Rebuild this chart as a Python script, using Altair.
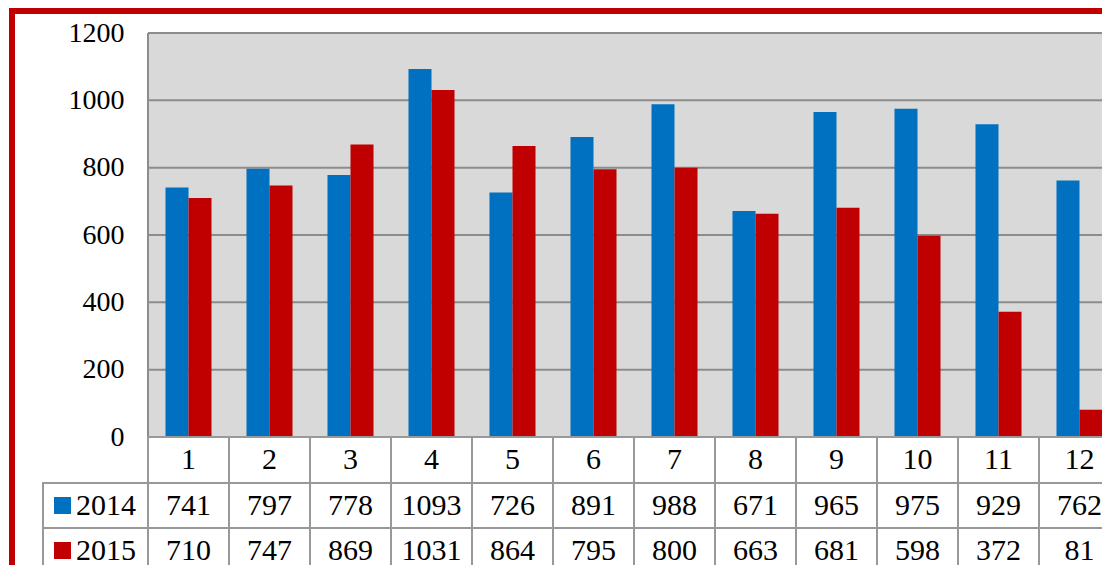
import altair as alt
import pandas as pd

months = [str(i) for i in range(1, 13)]
years = ["2014", "2015"]
v2014 = [741, 797, 778, 1093, 726, 891, 988, 671, 965, 975, 929, 762]
v2015 = [710, 747, 869, 1031, 864, 795, 800, 663, 681, 598, 372, 81]
colors = ["#0070C0", "#C00000"]
y_ticks = [0, 200, 400, 600, 800, 1000, 1200]

FONT = "'Liberation Serif', 'Times New Roman', 'DejaVu Serif', serif"
GRID = "#8c8c8c"
TABLE = "#999999"
FS_AXIS = 28
FS_TABLE = 30

PW, PH = 972, 404
VIEW_W = 946
ROW_TOP = [PH, PH + 46, PH + 91]
ROW_BOT = [PH + 46, PH + 91, PH + 136]

bars_df = pd.DataFrame({
    "month": months * 2,
    "year": [years[0]] * 12 + [years[1]] * 12,
    "value": v2014 + v2015,
})
month_df = pd.DataFrame({"month": months})
tick_df = pd.DataFrame({"tick": y_ticks})
one_df = pd.DataFrame({"k": [0]})

x_enc = alt.X("month:N", sort=months,
              scale=alt.Scale(paddingInner=0, paddingOuter=0, range=[0, PW]),
              axis=None)
y_scale = alt.Scale(domain=[0, 1200], nice=False)
color_scale = alt.Scale(domain=years, range=colors)

# plot background
bg = alt.Chart(one_df).mark_rect(fill="#D9D9D9").encode(
    x=alt.value(0), x2=alt.value(PW), y=alt.value(0), y2=alt.value(PH))

grid = alt.Chart(tick_df).mark_rule(color=GRID, strokeWidth=2).encode(
    y=alt.Y("tick:Q", scale=y_scale,
            axis=alt.Axis(values=y_ticks, title=None, ticks=False,
                          labelFont=FONT, labelFontSize=FS_AXIS, format="d",
                          labelColor="black", labelPadding=24,
                          domain=False, grid=False)),
    x=alt.value(0), x2=alt.value(PW))

left_line = alt.Chart(one_df).mark_rule(color=GRID, strokeWidth=2).encode(
    x=alt.value(0), y=alt.value(0), y2=alt.value(PH))

bars = alt.Chart(bars_df).mark_bar().encode(
    x=x_enc,
    xOffset=alt.XOffset("year:N", sort=years,
                        scale=alt.Scale(paddingInner=0, paddingOuter=0.76)),
    y=alt.Y("value:Q", scale=y_scale),
    color=alt.Color("year:N", scale=color_scale, legend=None),
)

layers = [bg, grid, left_line, bars]

# header row: month numbers
layers.append(alt.Chart(month_df).mark_rect(
    fill="white", stroke=TABLE, strokeWidth=2).encode(
    x=x_enc, y=alt.value(ROW_TOP[0]), y2=alt.value(ROW_BOT[0])))
layers.append(alt.Chart(month_df).mark_text(
    font=FONT, fontSize=FS_TABLE, color="black", baseline="middle").encode(
    x=x_enc, y=alt.value((ROW_TOP[0] + ROW_BOT[0]) / 2), text="month:N"))

for i, yr in enumerate(years):
    r = i + 1
    vals = v2014 if i == 0 else v2015
    row_df = pd.DataFrame({"month": months, "value": vals})
    yc = (ROW_TOP[r] + ROW_BOT[r]) / 2
    layers.append(alt.Chart(row_df).mark_rect(
        fill="white", stroke=TABLE, strokeWidth=2).encode(
        x=x_enc, y=alt.value(ROW_TOP[r]), y2=alt.value(ROW_BOT[r])))
    layers.append(alt.Chart(row_df).mark_text(
        font=FONT, fontSize=FS_TABLE, color="black", baseline="middle").encode(
        x=x_enc, y=alt.value(yc), text="value:Q"))
    ydf = pd.DataFrame({"year": [yr]})
    layers.append(alt.Chart(ydf).mark_rect(
        fill="white", stroke=TABLE, strokeWidth=2).encode(
        x=alt.value(-105), x2=alt.value(0),
        y=alt.value(ROW_TOP[r]), y2=alt.value(ROW_BOT[r])))
    layers.append(alt.Chart(ydf).mark_rect().encode(
        x=alt.value(-94), x2=alt.value(-77),
        y=alt.value(yc - 8.5), y2=alt.value(yc + 8.5),
        color=alt.Color("year:N", scale=color_scale, legend=None)))
    layers.append(alt.Chart(ydf).mark_text(
        font=FONT, fontSize=FS_TABLE, color="black", align="left",
        baseline="middle").encode(
        x=alt.value(-72), y=alt.value(yc), text="year:N"))

# outer red frame
layers.append(alt.Chart(one_df).mark_rect(
    fill=None, stroke="#C00000", strokeWidth=6).encode(
    x=alt.value(-136), x2=alt.value(1300),
    y=alt.value(-22), y2=alt.value(800)))

chart = alt.layer(*layers).properties(
    width=VIEW_W, height=PH,
    autosize=alt.AutoSizeParams(type="none"),
    padding={"left": 140, "top": 25, "right": 8, "bottom": 128},
).configure_view(
    strokeWidth=0,
).configure(background="white")

chart.save("out.html", embed_options={"renderer": "svg", "actions": False})
